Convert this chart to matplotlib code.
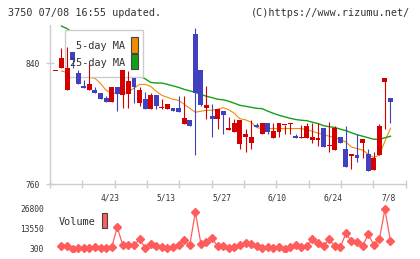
import numpy as np
import matplotlib
matplotlib.use('Agg')
import matplotlib.pyplot as plt
from matplotlib.patches import Rectangle

plt.rcParams['font.family'] = ['DejaVu Sans Mono']

# daily candles (first one is the lone doji at the left edge)
opens = [835.2, 836.7, 822.1, 847.9, 833.6, 824.8, 822.1, 822.6, 820.2, 816.9,
         814.4, 824.1, 818.8, 819.7, 830.3, 813.8, 816.2, 809.6, 818.8, 810.5,
         809.6, 810.2, 810.7, 800.1, 802.3, 859.2, 835.8, 810.4, 805.0, 802.8,
         808.3, 795.9, 794.6, 786.4, 791.3, 787.3, 799.2, 793.3, 800.5, 790.6,
         794.6, 799.0, 799.9, 791.7, 790.7, 790.6, 789.5, 789.5, 797.0, 784.9,
         782.5, 791.1, 783.1, 778.5, 779.4, 787.1, 779.8, 769.3, 779.4, 827.6,
         816.9]
highs = [835.2, 850.2, 851.2, 847.9, 835.4, 828.8, 839.3, 824.3, 820.2, 818.2,
         824.1, 824.1, 835.4, 834.7, 830.3, 824.3, 820.8, 820.4, 818.8, 816.7,
         812.9, 810.2, 818.2, 818.2, 802.3, 863.8, 835.8, 824.8, 812.9, 810.0,
         808.3, 804.5, 802.8, 802.3, 796.2, 802.3, 800.8, 800.5, 800.5, 800.5,
         800.5, 799.4, 800.3, 793.3, 799.2, 800.5, 800.5, 800.5, 797.0, 801.2,
         798.3, 791.1, 798.3, 779.8, 793.1, 789.7, 783.1, 781.2, 800.1, 830.1,
         816.9]
lows = [835.2, 836.7, 822.1, 837.2, 826.6, 823.5, 822.1, 820.4, 816.2, 814.4,
        814.4, 808.6, 810.2, 810.2, 813.6, 811.6, 809.6, 809.6, 810.0, 809.8,
        809.6, 808.5, 807.8, 800.1, 798.5, 779.2, 811.6, 802.8, 791.3, 796.8,
        793.1, 795.9, 794.6, 783.3, 781.4, 783.1, 797.7, 793.3, 793.3, 790.6,
        790.9, 793.3, 793.5, 790.6, 790.7, 790.6, 787.3, 785.1, 784.7, 781.4,
        782.5, 787.3, 771.4, 769.7, 774.7, 777.0, 768.8, 769.3, 779.4, 796.2,
        800.8]
closes = [835.2, 843.3, 837.2, 842.6, 826.6, 823.5, 826.1, 820.4, 816.2, 814.4,
          824.1, 819.5, 835.4, 828.1, 824.3, 822.1, 809.6, 818.8, 811.6, 810.9,
          812.9, 808.5, 807.8, 804.1, 798.5, 820.6, 812.2, 812.2, 802.8, 810.0,
          805.6, 797.2, 800.5, 802.3, 793.3, 791.1, 797.7, 800.5, 794.4, 795.2,
          800.5, 799.4, 800.3, 790.6, 791.1, 798.3, 791.3, 789.9, 784.7, 785.3,
          797.0, 787.3, 771.4, 779.8, 777.2, 789.7, 768.8, 777.2, 798.3, 830.1,
          814.2]

ma5 = [835.0, 834.0, 833.4, 832.7, 831.4, 830.7, 830.1, 826.8, 822.1, 820.5,
       820.0, 820.0, 821.5, 823.5, 826.1, 826.1, 824.8, 821.5, 818.8, 817.5,
       816.2, 815.5, 812.9, 810.2, 807.6, 808.3, 808.9, 808.9, 809.6, 810.6,
       809.3, 806.9, 803.3, 802.6, 801.0, 797.4, 796.8, 796.8, 796.8, 796.8,
       796.8, 796.8, 796.8, 796.8, 796.0, 795.0, 793.7, 792.7, 791.7, 790.7,
       789.7, 787.8, 784.5, 783.5, 782.5, 779.8, 777.5, 779.2, 788.4, 797.0]
ma25 = [864.8, 863.1, 860.5, 857.9, 855.2, 852.6, 850.6, 847.9, 845.3, 842.6,
        840.0, 837.4, 835.4, 833.4, 831.7, 829.8, 827.4, 827.0, 827.0, 826.1,
        825.1, 824.1, 822.8, 821.8, 820.8, 819.5, 818.2, 817.3, 816.2, 815.9,
        814.9, 813.6, 812.2, 811.6, 810.9, 810.2, 810.0, 808.3, 806.9, 805.6,
        804.6, 803.6, 802.8, 802.3, 802.0, 801.0, 800.1, 798.7, 798.0, 797.5,
        796.4, 795.4, 794.0, 792.7, 791.7, 790.7, 789.7, 789.7, 790.7, 791.7]
volume = [2090, 2490, 500, 1160, 760, 760, 1430, 760, 760, 1430,
          14680, 2750, 2750, 2750, 6730, 1160, 3810, 2090, 1630, 760,
          1630, 2750, 6060, 2750, 24810, 3810, 5140, 7390, 2090, 2090,
          960, 1430, 2750, 4080, 3410, 2290, 760, 1500, 760, 1500,
          250, 1760, 2820, 1500, 2150, 6730, 4140, 2290, 6730, 2150,
          1430, 10700, 5400, 4740, 2150, 10100, 2950, 6730, 26600, 5400]

date_pos = [9, 19, 29, 39, 49, 59]
date_labels = ['4/23', '5/13', '5/27', '6/10', '6/24', '7/8']
price_ticks = [760, 840]
vol_ticks = [300, 13550, 26800]

RED = '#d40000'
BLUE = '#4141c0'
ORANGE = '#f08c00'
GREEN = '#14a014'
GRID = '#cccccc'
VOL = '#ff5c5c'
TXT = '#333333'

W, H = 420, 259


def px_rect(x0, y0, x1, y1):
    return [x0 / W, 1 - y1 / H, (x1 - x0) / W, (y1 - y0) / H]


fig = plt.figure(figsize=(W / 100, H / 100), dpi=100)
ax = fig.add_axes(px_rect(50, 25, 406, 184))
axv = fig.add_axes(px_rect(50, 205, 406, 252))

xlim = (-2.06, 61.78)

# candles
o = np.array(opens)
c = np.array(closes)
xc = np.arange(-1, len(o) - 1)
cols = np.where(c >= o, RED, BLUE)
ax.vlines(xc, lows, highs, colors=cols, lw=0.8, zorder=3)
body = np.maximum(np.abs(c - o), 0.7)
ax.bar(xc, body, bottom=np.minimum(o, c), width=0.88, color=cols, lw=0, zorder=3)

# moving averages
xm = np.arange(len(ma5))
ax.plot(xm, ma5, color=ORANGE, lw=0.8, zorder=1)
ax.plot(xm, ma25, color=GREEN, lw=1.0, zorder=1)

# legend box (hides the MA lines, candles stay on top)
ax.add_patch(Rectangle((0.042, 0.673), 0.219, 0.296, transform=ax.transAxes,
                       facecolor='white', edgecolor=GRID, lw=1, zorder=2))
ax.text(0.2107, 0.868, '5-day MA', transform=ax.transAxes, ha='right', va='center',
        fontsize=7.4, color=TXT, zorder=4)
ax.text(0.2107, 0.761, '25-day MA', transform=ax.transAxes, ha='right', va='center',
        fontsize=7.4, color=TXT, zorder=4)
ax.add_patch(Rectangle((0.2275, 0.824), 0.0195, 0.1, transform=ax.transAxes,
                       facecolor=ORANGE, edgecolor='#444444', lw=0.8, zorder=4))
ax.add_patch(Rectangle((0.2275, 0.723), 0.0195, 0.094, transform=ax.transAxes,
                       facecolor=GREEN, edgecolor='#444444', lw=0.8, zorder=4))

ax.set_xlim(*xlim)
ax.set_ylim(760, 865.5)
for s in ['top', 'right']:
    ax.spines[s].set_visible(False)
for s in ['left', 'bottom']:
    ax.spines[s].set_color(GRID)
    ax.spines[s].set_linewidth(1.0)
ax.set_xticks(np.linspace(xlim[0] + 0.02, xlim[1] - 0.05, 12))
ax.set_xticklabels([])
ax.set_yticks(price_ticks)
ax.set_yticklabels([str(v) for v in price_ticks])
ax.tick_params(axis='both', direction='inout', length=5.5, width=1.0, color=GRID,
               labelsize=5.7, labelcolor=TXT)
ax.tick_params(axis='y', pad=4.5)
for p, lab in zip(date_pos, date_labels):
    ax.text(p - 0.3, -0.088, lab, transform=ax.get_xaxis_transform(),
            ha='center', va='center', fontsize=5.7, color=TXT)

# volume panel
xv = np.arange(len(volume))
axv.plot(xv, volume, color=VOL, lw=0.9, marker='D', ms=3.6, mec=VOL, mfc=VOL)
axv.set_xlim(*xlim)
axv.set_ylim(-1690, 29450)
for s in axv.spines.values():
    s.set_visible(False)
axv.set_xticks([])
axv.set_yticks(vol_ticks)
axv.set_yticklabels([str(v) for v in vol_ticks])
axv.tick_params(axis='y', length=0, pad=4.5, labelsize=5.7, labelcolor=TXT)
axv.text(0.025, 0.638, 'Volume', transform=axv.transAxes, ha='left', va='center',
         fontsize=7.4, color=TXT)
axv.add_patch(Rectangle((0.146, 0.511), 0.014, 0.319, transform=axv.transAxes,
                        facecolor=VOL, edgecolor='#444444', lw=0.8))

# header
fig.text(8 / W, 1 - 13 / H, '3750 07/08 16:55 updated.', ha='left', va='center',
         fontsize=7.3, color=TXT)
fig.text(410 / W, 1 - 13 / H, '(C)https://www.rizumu.net/', ha='right', va='center',
         fontsize=7.3, color=TXT)

fig.savefig('out.png', dpi=100)
